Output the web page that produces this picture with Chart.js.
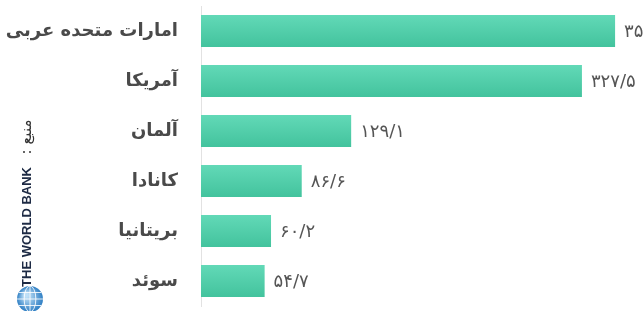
<!DOCTYPE html>
<html>
<head>
<meta charset="utf-8">
<script src="https://cdn.jsdelivr.net/npm/chart.js@4/dist/chart.umd.min.js"></script>
<style>
html, body { margin: 0; padding: 0; background: #fff; }
#wrap { width: 643px; height: 311px; }
</style>
</head>
<body>
<div id="wrap"><canvas id="chart"></canvas></div>
<script>
// data
const countries = ['امارات متحده عربی', 'آمریکا', 'آلمان', 'کانادا', 'بریتانیا', 'سوئد'];
const values = [356, 327.5, 129.1, 86.6, 60.2, 54.7];
const sourceLabel = 'منبع :';
const sourceName = 'THE WORLD BANK';

const faDigits = '۰۱۲۳۴۵۶۷۸۹';
const toFa = (v) => String(v).replace('.', '/').replace(/\d/g, d => faDigits[d]);

// gradient per bar, lighter at top
const barFill = (context) => {
    const chart = context.chart;
    const y = chart.scales.y;
    if (!y || context.dataIndex === undefined) return '#50cfa9';
    const c = y.getPixelForValue(context.dataIndex);
    if (!isFinite(c)) return '#50cfa9';
    const g = chart.ctx.createLinearGradient(0, c - 16, 0, c + 16);
    g.addColorStop(0, '#62d9b7');
    g.addColorStop(1, '#43c39d');
    return g;
};

const valueLabels = {
    id: 'valueLabels',
    afterDatasetsDraw(chart) {
        const ctx = chart.ctx;
        const meta = chart.getDatasetMeta(0);
        ctx.save();
        ctx.font = '18px "DejaVu Sans"';
        ctx.fillStyle = '#555';
        ctx.textAlign = 'left';
        ctx.textBaseline = 'middle';
        meta.data.forEach((bar, i) => {
            ctx.fillText(toFa(values[i]), bar.x + 9, bar.y + 1);
        });
        ctx.restore();
    }
};

const sourceNote = {
    id: 'sourceNote',
    afterDraw(chart) {
        const ctx = chart.ctx;
        ctx.save();
        // "منبع :"
        ctx.translate(27, 137);
        ctx.rotate(-Math.PI / 2);
        ctx.direction = 'rtl';
        ctx.font = '15px "DejaVu Sans"';
        ctx.fillStyle = '#333';
        ctx.textAlign = 'center';
        ctx.textBaseline = 'middle';
        ctx.fillText(sourceLabel, 0, 0);
        ctx.restore();

        ctx.save();
        ctx.translate(27, 227);
        ctx.rotate(-Math.PI / 2);
        ctx.font = 'bold 13px "Liberation Sans"';
        ctx.fillStyle = '#1d2a44';
        ctx.textAlign = 'center';
        ctx.textBaseline = 'middle';
        ctx.fillText(sourceName, 0, 0);
        ctx.restore();

        // small globe logo
        ctx.save();
        const gx = 30, gy = 299, r = 13;
        const rg = ctx.createRadialGradient(gx - 4, gy - 4, 2, gx, gy, r);
        rg.addColorStop(0, '#bfe0f7');
        rg.addColorStop(1, '#2f7fc4');
        ctx.beginPath();
        ctx.arc(gx, gy, r, 0, Math.PI * 2);
        ctx.fillStyle = rg;
        ctx.fill();
        ctx.strokeStyle = 'rgba(255,255,255,0.85)';
        ctx.lineWidth = 1;
        ctx.beginPath();
        ctx.ellipse(gx, gy, r * 0.45, r, 0, 0, Math.PI * 2);
        ctx.moveTo(gx, gy - r);
        ctx.lineTo(gx, gy + r);
        ctx.moveTo(gx - r, gy);
        ctx.lineTo(gx + r, gy);
        ctx.moveTo(gx - r * 0.85, gy - r * 0.5);
        ctx.lineTo(gx + r * 0.85, gy - r * 0.5);
        ctx.moveTo(gx - r * 0.85, gy + r * 0.5);
        ctx.lineTo(gx + r * 0.85, gy + r * 0.5);
        ctx.stroke();
        ctx.restore();
    }
};

const config = {
    type: 'bar',
    data: {
        labels: countries,
        datasets: [{
            data: values,
            backgroundColor: barFill,
            borderWidth: 0,
            categoryPercentage: 0.8,
            barPercentage: 0.8
        }]
    },
    options: {
        indexAxis: 'y',
        responsive: true,
        maintainAspectRatio: false,
        animation: false,
        layout: {
            padding: { top: 6, bottom: 5, left: 0, right: 0 }
        },
        plugins: {
            legend: { display: false },
            tooltip: { enabled: false }
        },
        scales: {
            x: {
                display: false,
                min: 0,
                max: 380
            },
            y: {
                grid: { display: false, drawTicks: false },
                border: { display: true, color: '#e2e2e2', width: 1 },
                ticks: {
                    padding: 23,
                    color: '#4a4a4a',
                    font: { family: '"DejaVu Sans"', size: 18, weight: 'bold' }
                },
                afterFit(scale) {
                    scale.width = 201;
                    scale.paddingTop = 0;
                    scale.paddingBottom = 0;
                }
            }
        }
    },
    plugins: [valueLabels, sourceNote]
};

window.onload = () => {
    let ctx = document.getElementById('chart').getContext('2d');
    window.myChart = new Chart(ctx, config);
};
</script>
</body>
</html>
